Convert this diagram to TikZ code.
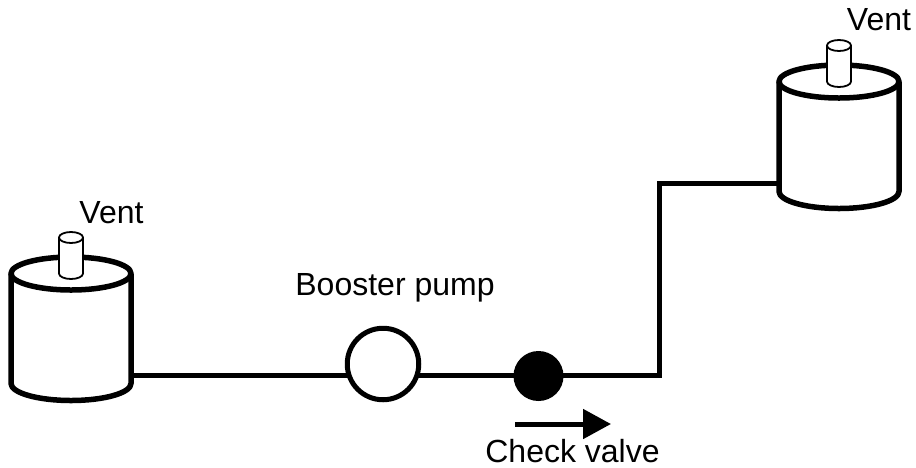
\documentclass[tikz,border=0pt]{standalone}
\usepackage{fontspec}
\setmainfont{Liberation Sans}
\usetikzlibrary{arrows.meta}
\tikzset{
  pipeline/.style={line width=5pt,line join=miter},
  tankline/.style={line width=5.5pt,line join=round,fill=white},
  ventline/.style={line width=1.8pt,fill=white},
  lbl/.style={font=\fontsize{32pt}{36pt}\selectfont,inner sep=0pt,anchor=base}
}
\newcommand{\tank}[2]{%
  % #1 left x, #2 top ellipse centre y
  \begin{scope}[shift={(#1,#2)}]
    \draw[tankline] (0,0) -- (0,110) arc[start angle=180,end angle=0,x radius=60,y radius=17] -- (120,0);
    \draw[tankline] (60,0) ellipse[x radius=60,y radius=16.5];
    \draw[ventline] (48,-36) -- (48,0) arc[start angle=180,end angle=0,x radius=12,y radius=5.5] -- (72,-36);
    \draw[ventline] (60,-36) ellipse[x radius=12,y radius=5.5];
  \end{scope}}
\begin{document}
\begin{tikzpicture}[x=1pt,y=-1pt]
\useasboundingbox (0,0) rectangle (916,467);
\coordinate (tankAout) at (131,375.7);
\coordinate (corner1) at (659,375.7);
\coordinate (corner2) at (659,183.5);
\coordinate (tankBin) at (779,183.5);
\draw[pipeline] (tankAout) -- (corner1) -- (corner2) -- (tankBin);
\tank{11}{273.5}
\tank{779}{81.5}
\node[circle,draw,fill=white,line width=5pt,minimum size=71.5pt,inner sep=0pt] (pump) at (383,364) {};
\node[circle,fill=black,minimum size=50pt,inner sep=0pt] (valve) at (538.5,376) {};
\coordinate (arrowA) at (515,424);
\coordinate (arrowB) at (611,424);
\draw[line width=5pt,-{Triangle[length=28pt,width=29pt]}] (arrowA) -- (arrowB);
\node[lbl] (ventA) at (111.5,223) {Vent};
\node[lbl] (ventB) at (879,30) {Vent};
\node[lbl] (pumpl) at (395,295) {Booster pump};
\node[lbl] (valvel) at (572.5,462) {Check valve};
\end{tikzpicture}
\end{document}
